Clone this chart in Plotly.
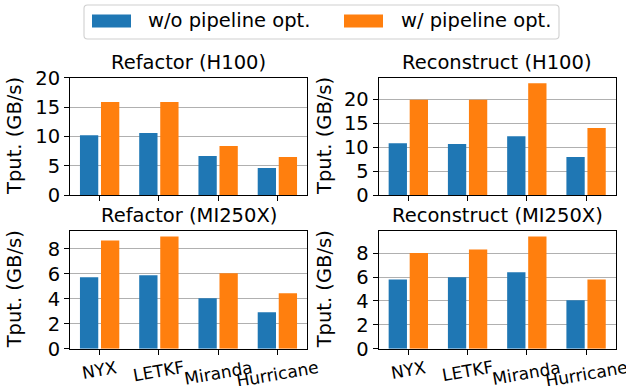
import plotly.graph_objects as go

categories = ["NYX", "LETKF", "Miranda", "Hurricane"]
series_names = ["w/o pipeline opt.", "w/ pipeline opt."]
colors = ["#1f77b4", "#ff7f0e"]

titles = ["Refactor (H100)", "Reconstruct (H100)", "Refactor (MI250X)", "Reconstruct (MI250X)"]
ylabel = "Tput. (GB/s)"

refactor_h100_wo = [10.2, 10.6, 6.7, 4.65]
refactor_h100_w = [15.85, 15.85, 8.4, 6.5]
reconstruct_h100_wo = [10.9, 10.7, 12.35, 8.0]
reconstruct_h100_w = [19.95, 19.95, 23.4, 14.05]
refactor_mi250x_wo = [5.72, 5.88, 4.04, 2.93]
refactor_mi250x_w = [8.67, 8.98, 6.04, 4.44]
reconstruct_mi250x_wo = [5.8, 5.97, 6.39, 4.06]
reconstruct_mi250x_w = [8.0, 8.3, 9.38, 5.8]

y_ranges = [[0, 20], [0, 24.57], [0, 9.43], [0, 9.85]]
y_ticks = [[0, 5, 10, 15, 20], [0, 5, 10, 15, 20], [0, 2, 4, 6, 8], [0, 2, 4, 6, 8]]

panels = [
    (refactor_h100_wo, refactor_h100_w),
    (reconstruct_h100_wo, reconstruct_h100_w),
    (refactor_mi250x_wo, refactor_mi250x_w),
    (reconstruct_mi250x_wo, reconstruct_mi250x_w),
]

W, H = 626, 386
FONT = "DejaVu Sans"
FS = 19.5

# axes boxes in pixels: (left, right, top, bottom)
boxes = [
    (70, 307, 77.7, 195.3),
    (378.7, 615.7, 77.7, 195.3),
    (70, 307, 231, 348.7),
    (378.7, 615.7, 231, 348.7),
]

def px(x):
    return x / W

def py(y):
    return 1 - y / H

fig = go.Figure()
layout = dict(
    width=W, height=H, autosize=False,
    margin=dict(l=0, r=0, t=0, b=0, pad=0, autoexpand=False),
    paper_bgcolor="white", plot_bgcolor="white",
    barmode="group", bargap=0.29, bargroupgap=0.13,
    showlegend=False,
    font=dict(family=FONT, size=FS, color="black"),
)

annotations = []
shapes = []

for i, (wo, w) in enumerate(panels):
    k = "" if i == 0 else str(i + 1)
    xa, ya = "x" + k, "y" + k
    for j, vals in enumerate([wo, w]):
        fig.add_trace(go.Bar(
            x=categories, y=vals, name=series_names[j],
            marker=dict(color=colors[j], line=dict(width=0)),
            xaxis=xa, yaxis=ya, offsetgroup=str(j),
        ))
    l, r, t, b = boxes[i]
    layout["xaxis" + k] = dict(
        domain=[px(l), px(r)], anchor=ya, type="category",
        categoryorder="array", categoryarray=categories,
        range=[-0.5, 3.5], showgrid=False, zeroline=False,
        showline=True, mirror=True, linecolor="black", linewidth=1.1,
        ticks="outside", ticklen=5, tickwidth=1.1, tickcolor="black",
        showticklabels=False, automargin=False,
    )
    layout["yaxis" + k] = dict(
        domain=[py(b), py(t)], anchor=xa, range=y_ranges[i],
        tickvals=y_ticks[i], showgrid=True, gridcolor="#b0b0b0", gridwidth=1.1,
        zeroline=False, showline=True, mirror=True, linecolor="black", linewidth=1.1,
        ticks="outside", ticklen=5, tickwidth=1.1, tickcolor="black",
        tickfont=dict(family=FONT, size=FS, color="black"), automargin=False,
    )
    # subplot title
    annotations.append(dict(
        text=titles[i], xref="paper", yref="paper",
        x=px((l + r) / 2), y=py(t - 15.5), xanchor="center", yanchor="middle",
        showarrow=False, font=dict(family=FONT, size=FS, color="black"),
    ))
    # y label
    ylx = 14.5 if i % 2 == 0 else 324.5
    annotations.append(dict(
        text=ylabel, xref="paper", yref="paper", textangle=-90,
        x=px(ylx), y=py((t + b) / 2), xanchor="center", yanchor="middle",
        showarrow=False, font=dict(family=FONT, size=FS, color="black"),
    ))
    # x tick labels (bottom row only), rotated like the reference
    if i >= 2:
        for c in categories:
            annotations.append(dict(
                text=c, xref=xa, yref="paper", x=c, y=py(b + 6),
                xanchor="center", yanchor="top", textangle=-10,
                showarrow=False, font=dict(family=FONT, size=17, color="black"),
            ))

# manual legend frame (matplotlib style, rounded corners)
lx0, lx1, ly0, ly1, rad = 84, 559, 5, 39, 3.5
def P(x, y):
    return f"{px(x):.5f},{py(y):.5f}"
frame_path = (
    f"M{P(lx0 + rad, ly0)} L{P(lx1 - rad, ly0)} Q{P(lx1, ly0)} {P(lx1, ly0 + rad)} "
    f"L{P(lx1, ly1 - rad)} Q{P(lx1, ly1)} {P(lx1 - rad, ly1)} "
    f"L{P(lx0 + rad, ly1)} Q{P(lx0, ly1)} {P(lx0, ly1 - rad)} "
    f"L{P(lx0, ly0 + rad)} Q{P(lx0, ly0)} {P(lx0 + rad, ly0)} Z"
)
shapes.append(dict(
    type="path", xref="paper", yref="paper", path=frame_path,
    line=dict(color="#d0d0d0", width=1.1), fillcolor="white", layer="above",
))
legend_patch_x = [92, 344]
legend_text_x = [146, 399]
for j in range(2):
    shapes.append(dict(
        type="rect", xref="paper", yref="paper",
        x0=px(legend_patch_x[j]), x1=px(legend_patch_x[j] + 39),
        y0=py(27.5), y1=py(14.5),
        line=dict(width=0), fillcolor=colors[j], layer="above",
    ))
    annotations.append(dict(
        text=series_names[j], xref="paper", yref="paper",
        x=px(legend_text_x[j]), y=py(21), xanchor="left", yanchor="middle",
        showarrow=False, font=dict(family=FONT, size=FS, color="black"),
    ))

layout["annotations"] = annotations
layout["shapes"] = shapes
fig.update_layout(**layout)
fig.write_html("out.html", config={"responsive": False})
